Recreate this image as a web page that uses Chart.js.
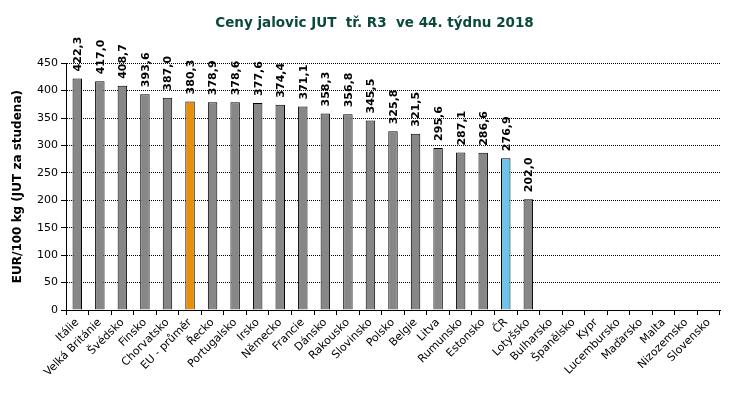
<!DOCTYPE html>
<html>
<head>
<meta charset="utf-8">
<script src="https://cdn.jsdelivr.net/npm/chart.js@4/dist/chart.umd.min.js"></script>
<style>
  html, body { margin: 0; padding: 0; background: #fff; }
  #wrap { width: 734px; height: 400px; position: relative; }
</style>
</head>
<body>
<div id="wrap"><canvas id="chart1"></canvas></div>
<script>
// data
const countries = ['Itálie', 'Velká Británie', 'Švédsko', 'Finsko', 'Chorvatsko', 'EU - průměr',
    'Řecko', 'Portugalsko', 'Irsko', 'Německo', 'Francie', 'Dánsko', 'Rakousko', 'Slovinsko',
    'Polsko', 'Belgie', 'Litva', 'Rumunsko', 'Estonsko', 'ČR', 'Lotyšsko', 'Bulharsko',
    'Španělsko', 'Kypr', 'Lucembursko', 'Maďarsko', 'Malta', 'Nizozemsko', 'Slovensko'];
const prices = [422.3, 417.0, 408.7, 393.6, 387.0, 380.3, 378.9, 378.6, 377.6, 374.4, 371.1,
    358.3, 356.8, 345.5, 325.8, 321.5, 295.6, 287.1, 286.6, 276.9, 202.0,
    null, null, null, null, null, null, null, null];
const yTicks = [0, 50, 100, 150, 200, 250, 300, 350, 400, 450];

const FONT = "'DejaVu Sans', Verdana, sans-serif";

// bar colours: grey, EU average orange, CR blue
let barColors = countries.map(function(c){
    if(c === 'EU - průměr') return '#E8900A';
    if(c === 'ČR') return '#6EC4E8';
    return '#878787';
});

// value labels above the bars, rotated
const valueLabels = {
    id: 'valueLabels',
    afterDatasetsDraw(chart){
        const ctx = chart.ctx;
        const meta = chart.getDatasetMeta(0);
        ctx.save();
        ctx.font = 'bold 11px ' + FONT;
        ctx.fillStyle = '#000';
        ctx.textAlign = 'left';
        ctx.textBaseline = 'middle';
        meta.data.forEach(function(bar, i){
            let v = prices[i];
            if(v === null) return;
            ctx.save();
            ctx.translate(bar.x + 1, bar.y - 7);
            ctx.rotate(-Math.PI / 2);
            ctx.fillText(v.toFixed(1).replace('.', ','), 0, 0);
            ctx.restore();
        });
        ctx.restore();
    }
};

// title sits a little right of the canvas centre in the original
const titleShift = {
    id: 'titleShift',
    afterLayout(chart){
        if(chart.titleBlock){
            chart.titleBlock.left += 9;
            chart.titleBlock.right += 9;
        }
    }
};

var ctx1 = document.getElementById('chart1');
var chart1 = new Chart(ctx1, {
    type: 'bar',
    data: {
        labels: countries,
        datasets: [{
            data: prices,
            backgroundColor: barColors,
            borderColor: '#000',
            borderWidth: 1,
            barPercentage: 0.42,
            categoryPercentage: 1
        }]
    },
    options: {
        responsive: true,
        maintainAspectRatio: false,
        animation: false,
        layout: { padding: { top: 0, right: 14, bottom: 0, left: 11 } },
        plugins: {
            legend: { display: false },
            tooltip: { enabled: false },
            title: {
                display: true,
                text: 'Ceny jalovic JUT  tř. R3  ve 44. týdnu 2018',
                color: '#0A4A3A',
                font: { family: FONT, size: 13.5, weight: 'bold' },
                padding: { top: 15, bottom: 32 }
            }
        },
        scales: {
            x: {
                grid: {
                    display: true,
                    offset: true,
                    drawOnChartArea: false,
                    drawTicks: true,
                    tickLength: 5,
                    tickColor: '#000',
                    color: '#000'
                },
                border: { display: true, color: '#000', width: 1 },
                ticks: {
                    autoSkip: false,
                    maxRotation: 45,
                    minRotation: 45,
                    color: '#000',
                    padding: 1,
                    font: { family: FONT, size: 11 }
                },
                afterFit: function(scale){ scale.height = 90; }
            },
            y: {
                min: 0,
                max: 450,
                afterBuildTicks: function(scale){
                    scale.ticks = yTicks.map(function(v){ return { value: v }; });
                },
                grid: {
                    color: '#000',
                    lineWidth: 1,
                    tickLength: 5,
                    tickColor: '#000',
                    tickBorderDash: []
                },
                border: { display: true, color: '#000', width: 1, dash: [1, 1] },
                ticks: {
                    color: '#000',
                    padding: 3,
                    font: { family: FONT, size: 11 }
                },
                title: {
                    display: true,
                    text: 'EUR/100 kg (JUT za studena)',
                    color: '#000',
                    font: { family: FONT, size: 12, weight: 'bold' },
                    padding: { top: 0, bottom: 4 }
                },
                afterFit: function(scale){ scale.width = 55; }
            }
        }
    },
    plugins: [valueLabels, titleShift]
});
</script>
</body>
</html>
